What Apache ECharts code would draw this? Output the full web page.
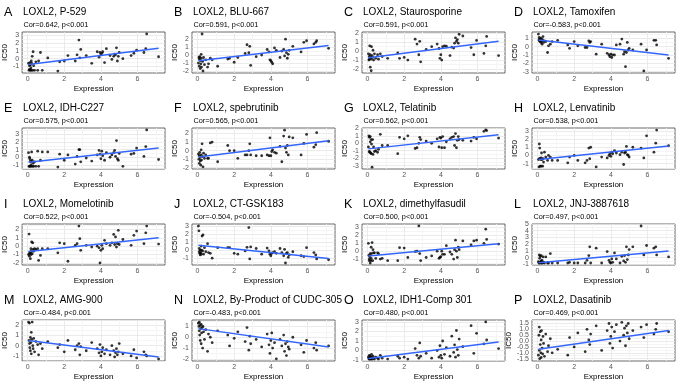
<!DOCTYPE html>
<html>
<head>
<meta charset="utf-8">
<script src="https://cdn.jsdelivr.net/npm/echarts@6/dist/echarts.min.js"></script>
<style>
  html, body { margin: 0; padding: 0; background: #fff; }
  #chart { width: 685px; height: 392px; }
</style>
</head>
<body>
<div id="chart"></div>
<script>
// LOXL2 expression of the cell lines (same x for every panel)
const EXPR = [0.05, 0.08, 0.10, 0.10, 0.12, 0.15, 0.15, 0.18, 0.20, 0.20,
  0.22, 0.25, 0.28, 0.30, 0.33, 0.38, 0.45, 0.55, 0.60, 0.70,
  0.80, 1.10, 1.65, 1.75, 2.00, 2.20, 2.60, 2.70, 2.80, 2.85,
  2.90, 3.20, 3.50, 3.80, 3.90, 3.95, 4.00, 4.05, 4.10, 4.20,
  4.30, 4.50, 4.60, 4.70, 4.75, 4.80, 4.85, 4.90, 4.95, 5.00,
  5.20, 5.65, 5.80, 5.95, 6.35, 6.45, 6.50, 7.15];

// IC50 per drug, same order as EXPR
const IC50_A = [-0.6, -1.5, -0.9, -1.4, -0.5, -1.5, -0.8, -1.2, -0.3, -1.5, -0.6, 0.3, -1.5, 0.9, -0.9, -1.5, -0.4, -1.5, -0.3, 0.8,
  -1.5, 0.1, -1.6, -0.4, -0.3, 0.4, -0.3, 0.5, 2.4, 0.1, 1.2, 0.4, -0.6, 0.9, 0.2, 0.8, 0.5, 0.7, 0.9, -0.5,
  1.3, 0.4, -0.1, 0.3, 0.6, 0.5, 1.4, -0.3, 0.3, 0.8, 0.0, 0.4, 0.7, 1.1, 0.8, 1.3, 3.2, 0.25];
const IC50_B = [-1.0, -0.3, -1.4, -0.5, -0.2, -1.7, -0.7, -1.1, 0.1, -0.4, -1.5, 2.65, -0.8, -2.0, -0.3, -1.2, -0.6, -1.5, -1.1, -0.4,
  -0.6, -1.4, -0.5, -0.4, -0.9, -0.3, 0.2, 1.3, 0.3, 1.1, -1.3, -0.2, 0.0, 0.7, 0.4, -0.6, -0.7, -0.9, -1.1, 0.9,
  0.6, -0.3, 0.5, 0.7, -0.1, 2.0, 0.3, -0.4, 0.1, 0.6, 1.1, 0.4, 1.6, 1.8, 1.4, 1.6, 1.8, 0.85];
const IC50_C = [-0.3, -1.0, -0.6, -0.9, 0.6, -0.4, -1.8, -0.7, -2.2, -0.9, 0.5, -0.5, -0.7, 0.1, -1.0, -0.3, -0.8, -0.4, -0.9, -0.3,
  -0.6, -0.8, -0.2, -0.8, -0.7, -1.0, 1.35, 0.8, -0.4, 1.1, -1.2, 0.2, 0.5, 0.8, 0.3, -0.8, -0.4, -1.0, 0.5, 0.6,
  0.55, -0.5, 0.45, 0.35, 0.9, 1.5, 1.1, 1.3, 0.9, 1.9, 1.7, 0.4, -0.4, 1.2, -0.25, 0.6, 1.65, -0.5];
const IC50_D = [1.5, 0.8, 0.7, 1.1, 0.9, 0.6, 0.9, 0.5, 0.8, 1.0, 0.6, 0.3, 0.8, 1.2, 0.5, 0.7, 0.6, -0.7, 0.1, 0.3,
  0.6, 0.75, 0.2, -0.2, 0.6, 0.1, -0.1, -0.1, 0.7, 0.5, 0.6, -0.9, 0.3, -0.8, -1.0, -1.2, -0.9, -1.3, -1.0, -1.0,
  0.2, 0.3, 0.9, -0.9, -0.6, -2.4, -0.7, 0.5, -0.4, -0.2, -0.4, 0.3, -2.9, -0.4, 0.75, 0.75, 0.2, -1.4];
const IC50_E = [0.6, -1.2, 0.0, -1.2, -0.2, -1.2, -0.5, -1.0, -0.6, -1.2, 0.7, -0.4, -1.2, -0.8, -1.2, -0.6, -1.2, 0.8, -1.2, -0.4,
  0.7, 0.7, -1.3, 0.4, -0.4, 0.3, -0.9, 0.1, 1.0, 1.0, -0.6, -0.1, -0.5, 0.3, 0.9, 0.4, -0.2, 0.8, 0.2, -0.4,
  0.6, 0.0, 0.3, 0.6, 0.9, 0.1, 2.2, -0.2, -0.4, 0.5, -1.2, 0.4, 0.5, 1.2, 0.1, 1.4, 3.6, -0.3];
const IC50_F = [-0.4, -1.0, -0.6, -1.5, -0.2, -1.2, -0.8, -1.7, 0.1, -0.5, -1.1, 0.8, -0.7, -1.9, -0.3, -0.9, -0.5, -0.9, -0.9, 0.9,
  1.0, -1.3, 0.6, 0.0, 0.0, -0.9, -0.5, -0.5, 0.0, 0.8, -0.5, -0.6, -0.6, -0.5, -0.6, 1.5, -0.6, -0.1, 0.1, -0.2,
  -0.3, 0.5, -1.3, 1.7, 2.4, 0.3, -0.2, 0.6, -0.5, 1.6, 1.5, -0.5, 0.85, 1.9, 0.4, 0.7, 2.1, 1.1];
const IC50_G = [-0.5, 1.0, -1.1, 0.8, -1.2, 0.9, 0.2, -1.3, 0.5, -1.4, -0.1, -3.2, 0.5, -1.5, -0.5, -1.1, -1.0, -1.2, -0.8, 1.2,
  -0.3, -0.3, -1.4, 0.8, 0.6, 1.0, -0.7, -0.6, 0.0, 0.8, 0.5, 0.3, 0.0, 0.6, -0.5, 0.8, 0.7, -0.6, 0.9, -0.6,
  0.2, 0.6, 0.8, 0.9, -0.3, 1.3, -0.6, 0.4, 0.9, 0.5, 0.4, 0.3, 0.8, 0.6, 1.6, 1.8, 1.7, 0.7];
const IC50_H = [-0.5, -1.4, 1.4, -0.4, 0.9, -0.4, -1.3, -0.5, -0.3, -1.3, 0.3, -0.5, -1.3, -0.4, -0.8, 0.4, -0.2, -0.6, 0.0, -0.2,
  -0.6, -0.6, -0.9, -0.2, 0.0, -0.6, -0.9, -0.6, 0.9, -0.4, 1.0, -1.4, -0.2, -0.3, 0.0, 0.2, -0.1, 0.4, 0.2, 0.6,
  0.3, 0.1, 0.4, -1.1, 0.3, 0.4, 1.1, 0.1, 0.0, -0.2, 1.0, 0.9, -0.3, 2.4, 0.4, 1.5, 3.1, 1.2];
const IC50_I = [-1.0, 1.45, -0.9, -1.2, -0.7, -1.5, -0.8, -0.3, -1.0, -0.6, 0.5, -0.9, 0.4, -0.4, -0.6, -0.3, -0.4, -0.3, -1.7, -1.1,
  -0.3, -0.3, -0.8, 0.4, 0.3, -1.8, 0.1, 0.3, 2.4, 0.9, -0.5, 0.1, -0.1, 0.0, -0.2, -2.0, -0.5, 0.1, -0.3, 0.7,
  0.3, 0.1, 0.4, 1.4, 0.2, 1.1, -0.1, 0.3, 1.9, 0.2, 0.8, 0.1, 1.3, 1.8, 0.3, 1.6, 2.4, 0.25];
const IC50_J = [3.0, 2.4, 0.2, -0.2, -0.4, 0.0, -0.6, -0.3, 0.5, -0.5, 0.0, 1.75, -0.1, 1.9, -0.5, 0.3, -0.2, 0.8, -0.3, -0.4,
  -1.0, 0.3, 0.3, 0.3, -0.4, -0.5, -0.1, 0.35, 2.8, -1.1, 0.4, 0.2, -0.5, 0.25, -0.1, -0.5, -0.7, -0.4, -0.3, -0.2,
  -0.4, 0.2, -0.3, -0.7, 0.1, -1.6, -0.4, -0.3, -0.9, -0.6, -0.2, -0.7, -0.8, 0.3, -0.3, -0.6, -1.1, -1.2];
const IC50_K = [1.0, -0.5, -1.0, -1.2, -0.7, -1.5, -0.3, -1.2, 0.5, -0.9, -0.3, 1.1, -1.2, 0.2, -0.2, -0.2, -0.9, -0.2, -0.3, -1.0,
  -0.9, -1.2, -1.2, 0.45, 0.4, -0.8, -0.05, 0.0, 3.2, -0.3, -1.2, -0.8, -0.6, 0.0, -0.9, -0.8, -0.7, 0.0, -0.4, -0.4,
  0.7, -0.1, -0.4, -1.0, 0.2, 1.4, 0.0, -0.8, 0.5, 0.2, 1.3, 0.8, 1.3, 1.4, 1.0, 2.8, 1.5, 0.9];
const IC50_L = [-0.6, -0.8, 0.4, -0.8, -0.1, -0.7, 0.2, -0.8, -0.5, 0.3, -0.8, -0.4, -0.8, 0.1, -0.7, -0.8, 0.1, -0.8, -0.8, 0.6,
  -0.8, -0.8, -0.8, -0.7, -0.8, -0.8, -0.8, -0.4, 0.3, 1.6, -0.8, 1.4, -0.8, 0.9, -0.4, -0.7, -0.8, -0.2, -0.7, 0.7,
  -0.2, -0.8, 0.2, -0.5, 0.3, -0.7, 1.6, -0.3, 0.4, 1.2, 1.6, 4.7, 0.4, 1.8, 1.4, 1.6, 0.4, 0.1];
const IC50_M = [2.3, 0.5, 0.2, 2.2, -0.2, 0.8, -0.5, 0.3, 1.3, -0.8, 0.6, 2.3, 0.0, -0.3, 0.7, -0.6, 0.4, 0.1, -0.9, 0.2,
  -0.3, 0.4, -0.2, 0.1, -0.6, 0.5, -0.4, 0.0, 0.2, -0.9, -0.1, -0.5, 0.3, -0.3, -0.7, 0.1, -1.0, -0.6, -0.2, -0.8,
  -0.4, -0.9, 0.0, -0.5, -1.1, -0.7, -0.3, -0.9, -0.6, 0.2, -0.8, -1.0, -0.4, -1.2, -0.6, -0.9, -1.0, -1.3];
const IC50_N = [1.3, 1.0, 0.6, 1.4, 0.2, 1.1, -0.3, 0.8, 1.2, -0.6, 0.4, 0.9, -1.0, 1.0, 0.5, -0.2, 0.7, -1.3, 0.3, 0.0,
  -0.5, 0.6, 0.2, -0.8, -0.1, 0.5, -0.4, 0.9, -1.2, 0.1, -0.6, -0.2, -0.9, 0.3, -0.7, -1.5, -0.3, 0.4, -1.0, -0.5,
  -2.0, -0.2, -0.8, 0.2, -1.3, -0.6, -1.7, -0.4, -0.9, -1.1, 0.0, -0.7, -1.4, -0.3, -1.0, -0.5, -1.2, -0.8];
const IC50_O = [-0.7, -0.9, -0.8, -0.5, -0.9, -0.8, -0.6, -0.9, -0.7, -0.9, -0.4, -0.8, -0.9, -0.6, -0.8, -0.9, -0.7, -0.8, -0.9, -0.5,
  -0.8, -0.9, -0.6, -0.8, -0.7, -0.9, 0.2, -0.5, -0.8, 0.8, -0.6, -0.3, -0.8, 0.0, -0.7, 0.5, -0.5, -0.8, 1.0, -0.4,
  0.3, -0.6, 1.5, -0.2, 0.6, -0.7, 2.1, 0.1, -0.5, 1.2, 0.4, 2.6, -0.3, 1.8, 0.7, 3.0, 1.1, 0.2];
const IC50_P = [-1.2, 0.5, -0.8, 1.2, -1.5, -0.3, 0.8, -1.0, 0.1, -1.4, 0.9, -0.6, -1.1, 0.4, -0.2, -1.3, 0.6, -0.9, -0.4, 0.2,
  -1.0, -0.7, -1.2, 0.3, -0.5, 0.7, -0.9, 1.0, 0.1, -0.3, 0.6, 1.3, -0.8, 0.9, 1.5, -0.2, 0.4, 1.2, -0.6, 0.8,
  1.4, 0.0, 1.6, 0.5, 1.1, -0.4, 1.3, 0.7, 1.5, 0.2, 0.9, 1.2, 0.3, 1.4, 0.6, 1.0, 1.5, 0.8];

const IC50 = [IC50_A, IC50_B, IC50_C, IC50_D, IC50_E, IC50_F, IC50_G, IC50_H,
  IC50_I, IC50_J, IC50_K, IC50_L, IC50_M, IC50_N, IC50_O, IC50_P];

const LETTERS = ['A', 'B', 'C', 'D', 'E', 'F', 'G', 'H', 'I', 'J', 'K', 'L', 'M', 'N', 'O', 'P'];
const DRUGS = ['P-529', 'BLU-667', 'Staurosporine', 'Tamoxifen', 'IDH-C227', 'spebrutinib', 'Telatinib', 'Lenvatinib',
  'Momelotinib', 'CT-GSK183', 'dimethylfasudil', 'JNJ-3887618', 'AMG-900', 'By-Product of CUDC-305', 'IDH1-Comp 301', 'Dasatinib'];
const CORS = ['0.642', '0.591', '0.591', '-0.583', '0.575', '0.565', '0.562', '0.538',
  '0.522', '-0.504', '0.500', '0.497', '-0.484', '-0.483', '0.480', '0.469'];
// fitted line read at the ends of the expression range
const FIT_START = [-0.75, -0.7, -0.75, 0.8, -0.65, -0.75, -0.75, -0.5, -0.65, 0.6, -0.6, -0.75, 0.5, 0.8, -0.85, -0.7];
const FIT_END = [1.35, 1.2, 1.1, -1.0, 1.2, 1.15, 1.15, 1.15, 1.0, -1.05, 0.95, 1.0, -1.1, -0.9, 0.9, 0.9];
// y tick step per panel
const Y_MAJOR = [1, 1, 1, 1, 1, 1, 1, 1, 1, 1, 1, 1, 1, 1, 1, 0.5];
const X_MAJOR = 2;

const FONT = '"Liberation Sans", Arial, sans-serif';
const MAJOR_COL = '#e6e6e6';
const MINOR_COL = '#f3f3f3';
const COL_W = 170, ROW_H = 96;

const chart = echarts.init(document.getElementById('chart'));

// split line colours: one entry per tick, only majors and half-majors visible
function gridColors(min, max, step, major) {
  const n = Math.round((max - min) / step);
  const out = [];
  for (let i = 0; i <= n; i++) {
    const q = (min + i * step) / (major / 2);
    if (Math.abs(q - Math.round(q)) < 1e-6) {
      out.push(Math.round(q) % 2 === 0 ? MAJOR_COL : MINOR_COL);
    } else {
      out.push('rgba(0,0,0,0)');
    }
  }
  return out;
}

function isMajor(v, major) {
  const q = v / major;
  return Math.abs(q - Math.round(q)) < 1e-6;
}

const xMinData = Math.min(...EXPR), xMaxData = Math.max(...EXPR);
const X_MIN = -0.3, X_MAX = 7.5, X_STEP = 0.1;

const grids = [], xAxes = [], yAxes = [], series = [], graphics = [];

IC50.forEach((vals, i) => {
  const col = i % 4, row = Math.floor(i / 4);
  const x0 = col * COL_W, y0 = row * ROW_H;
  const major = Y_MAJOR[i];
  const yStep = 0.05;
  const lo = Math.min(...vals), hi = Math.max(...vals);
  const pad = (hi - lo) * 0.05;
  const yMin = Math.round(Math.floor((lo - pad) / yStep) * yStep * 100) / 100;
  const yMax = Math.round(Math.ceil((hi + pad) / yStep) * yStep * 100) / 100;

  grids.push({
    left: x0 + 22, top: y0 + 32, width: 143, height: 41,
    show: true, backgroundColor: '#fff', borderColor: '#444', borderWidth: 0.8,
    containLabel: false
  });

  xAxes.push({
    type: 'value', gridIndex: i, min: X_MIN, max: X_MAX, interval: X_STEP,
    name: 'Expression', nameLocation: 'middle', nameGap: 12,
    nameTextStyle: { fontFamily: FONT, fontSize: 8, color: '#000' },
    axisLine: { show: false }, axisTick: { show: false },
    axisLabel: {
      margin: 3, fontFamily: FONT, fontSize: 7, color: '#555',
      showMinLabel: true, showMaxLabel: true,
      formatter: v => isMajor(v, X_MAJOR) ? String(Math.round(v)) : ''
    },
    splitLine: { show: true, lineStyle: { width: 0.8, color: gridColors(X_MIN, X_MAX, X_STEP, X_MAJOR) } }
  });

  yAxes.push({
    type: 'value', gridIndex: i, min: yMin, max: yMax, interval: yStep,
    name: 'IC50', nameLocation: 'middle', nameGap: 11,
    nameTextStyle: { fontFamily: FONT, fontSize: 8, color: '#000' },
    axisLine: { show: false }, axisTick: { show: false },
    axisLabel: {
      margin: 3, fontFamily: FONT, fontSize: 7, color: '#555',
      formatter: v => isMajor(v, major) ? (major < 1 ? v.toFixed(1) : String(Math.round(v))) : ''
    },
    splitLine: { show: true, lineStyle: { width: 0.8, color: gridColors(yMin, yMax, yStep, major) } }
  });

  series.push({
    type: 'scatter', xAxisIndex: i, yAxisIndex: i,
    data: EXPR.map((x, k) => [x, vals[k]]),
    symbolSize: 2.8, itemStyle: { color: '#000' }, silent: true
  });
  series.push({
    type: 'line', xAxisIndex: i, yAxisIndex: i,
    data: [[xMinData, FIT_START[i]], [xMaxData, FIT_END[i]]],
    symbol: 'none', lineStyle: { color: '#3366ff', width: 1.5 }, silent: true, z: 3
  });

  graphics.push({
    type: 'text', z: 10,
    style: { x: x0 + 4, y: y0 + 12.5, text: LETTERS[i], font: '12.5px ' + FONT, fill: '#000', verticalAlign: 'middle' }
  });
  graphics.push({
    type: 'text', z: 10,
    style: { x: x0 + 23, y: y0 + 12.5, text: 'LOXL2, ' + DRUGS[i], font: '10px ' + FONT, fill: '#000', verticalAlign: 'middle' }
  });
  graphics.push({
    type: 'text', z: 10,
    style: { x: x0 + 23.5, y: y0 + 25, text: 'Cor=' + CORS[i] + ', p<0.001', font: '7.3px ' + FONT, fill: '#000', verticalAlign: 'middle' }
  });
});

chart.setOption({
  backgroundColor: '#fff',
  animation: false,
  grid: grids,
  xAxis: xAxes,
  yAxis: yAxes,
  series: series,
  graphic: graphics
});
</script>
</body>
</html>
